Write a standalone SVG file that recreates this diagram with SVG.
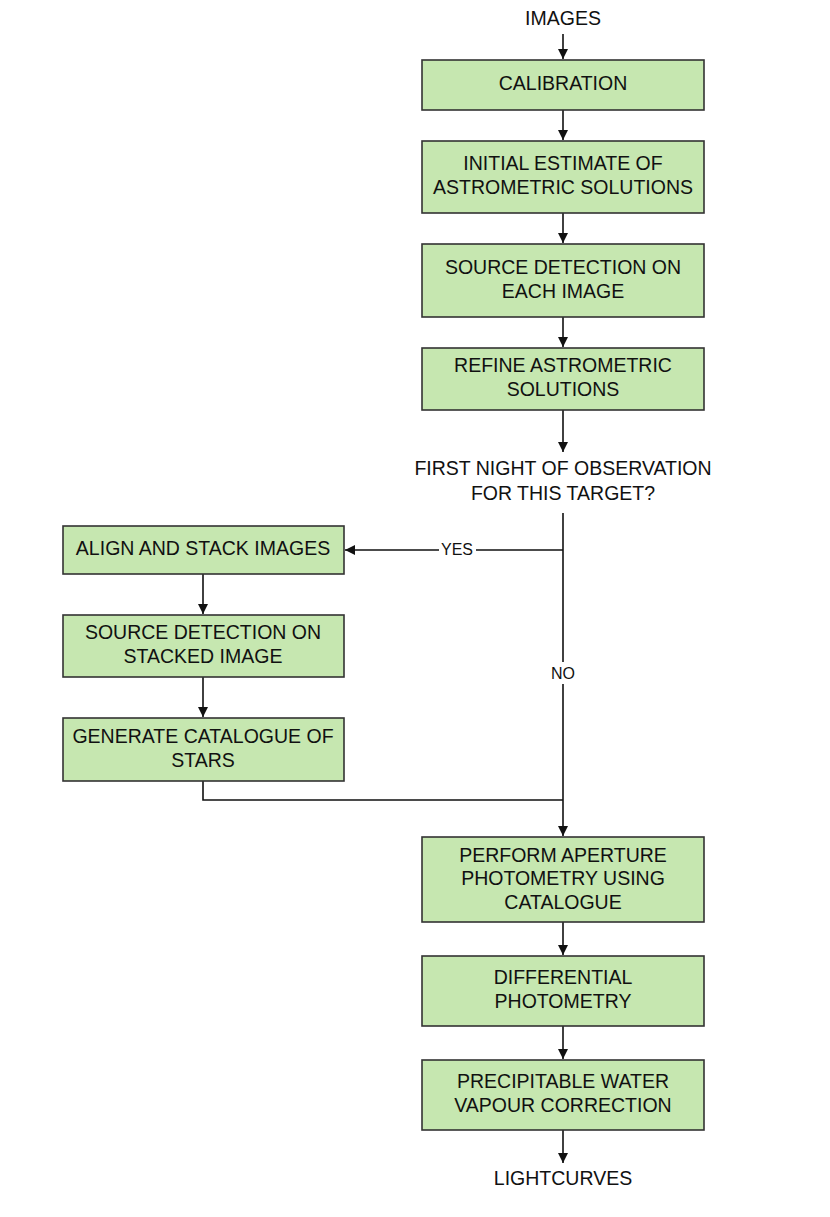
<svg xmlns="http://www.w3.org/2000/svg" width="830" height="1217" viewBox="0 0 830 1217">
<style>
.box{fill:#c6e7b0;stroke:#333;stroke-width:1.6}
.t{font-family:"Liberation Sans",Arial,sans-serif;font-size:19.5px;fill:#111;text-anchor:middle;dominant-baseline:central}
.s{font-family:"Liberation Sans",Arial,sans-serif;font-size:16px;fill:#111;text-anchor:middle;dominant-baseline:central}
.c{fill:none;stroke:#111;stroke-width:1.6}
</style>
<defs>
<marker id="ah" markerWidth="10" markerHeight="14" refX="10" refY="5" orient="auto" markerUnits="userSpaceOnUse" viewBox="0 0 10 10">
<path d="M0,0 L10,5 L0,10 Z" fill="#111"/>
</marker>
</defs>
<rect width="830" height="1217" fill="#fff"/>
<g id="connectors">
<line class="c" x1="563" y1="34" x2="563" y2="59" marker-end="url(#ah)"/>
<line class="c" x1="563" y1="110" x2="563" y2="140" marker-end="url(#ah)"/>
<line class="c" x1="563" y1="213" x2="563" y2="243" marker-end="url(#ah)"/>
<line class="c" x1="563" y1="317" x2="563" y2="347" marker-end="url(#ah)"/>
<line class="c" x1="563" y1="410" x2="563" y2="452" marker-end="url(#ah)"/>
<line class="c" x1="563" y1="513" x2="563" y2="662"/>
<line class="c" x1="563" y1="684" x2="563" y2="836" marker-end="url(#ah)"/>
<line class="c" x1="563" y1="550" x2="476" y2="550"/>
<line class="c" x1="439" y1="550" x2="345" y2="550" marker-end="url(#ah)"/>
<line class="c" x1="203" y1="574" x2="203" y2="614" marker-end="url(#ah)"/>
<line class="c" x1="203" y1="677" x2="203" y2="717" marker-end="url(#ah)"/>
<polyline class="c" points="203,781 203,800 563,800"/>
<line class="c" x1="563" y1="922" x2="563" y2="955" marker-end="url(#ah)"/>
<line class="c" x1="563" y1="1026" x2="563" y2="1059" marker-end="url(#ah)"/>
<line class="c" x1="563" y1="1130" x2="563" y2="1163" marker-end="url(#ah)"/>
<text class="s" x="457" y="549">YES</text>
<text class="s" x="563" y="673">NO</text>
</g>
<g id="images"><text class="t" x="563" y="18">IMAGES</text></g>
<g id="calibration"><rect class="box" x="422" y="60" width="282" height="50"/><text class="t" x="563" y="83">CALIBRATION</text></g>
<g id="initial"><rect class="box" x="422" y="141" width="282" height="72"/><text class="t" x="563" y="163">INITIAL ESTIMATE OF</text><text class="t" x="563" y="187">ASTROMETRIC SOLUTIONS</text></g>
<g id="source1"><rect class="box" x="422" y="244" width="282" height="73"/><text class="t" x="563" y="267">SOURCE DETECTION ON</text><text class="t" x="563" y="291">EACH IMAGE</text></g>
<g id="refine"><rect class="box" x="422" y="348" width="282" height="62"/><text class="t" x="563" y="365">REFINE ASTROMETRIC</text><text class="t" x="563" y="389">SOLUTIONS</text></g>
<g id="decision"><text class="t" x="563" y="468">FIRST NIGHT OF OBSERVATION</text><text class="t" x="563" y="493">FOR THIS TARGET?</text></g>
<g id="align"><rect class="box" x="63" y="526" width="281" height="48"/><text class="t" x="203" y="548">ALIGN AND STACK IMAGES</text></g>
<g id="source2"><rect class="box" x="63" y="615" width="281" height="62"/><text class="t" x="203" y="632">SOURCE DETECTION ON</text><text class="t" x="203" y="656">STACKED IMAGE</text></g>
<g id="generate"><rect class="box" x="63" y="718" width="281" height="63"/><text class="t" x="203" y="736">GENERATE CATALOGUE OF</text><text class="t" x="203" y="760">STARS</text></g>
<g id="aperture"><rect class="box" x="422" y="837" width="282" height="85"/><text class="t" x="563" y="855">PERFORM APERTURE</text><text class="t" x="563" y="878">PHOTOMETRY USING</text><text class="t" x="563" y="902">CATALOGUE</text></g>
<g id="differential"><rect class="box" x="422" y="956" width="282" height="70"/><text class="t" x="563" y="977">DIFFERENTIAL</text><text class="t" x="563" y="1001">PHOTOMETRY</text></g>
<g id="pwv"><rect class="box" x="422" y="1060" width="282" height="70"/><text class="t" x="563" y="1081">PRECIPITABLE WATER</text><text class="t" x="563" y="1105">VAPOUR CORRECTION</text></g>
<g id="lightcurves"><text class="t" x="563" y="1178">LIGHTCURVES</text></g>
</svg>
